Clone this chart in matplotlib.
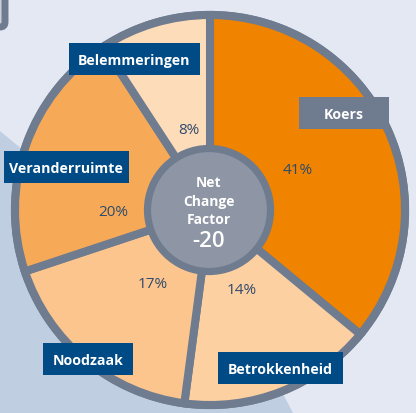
"""Net Change Factor pie: five drivers around a centre badge."""

import matplotlib

matplotlib.use("Agg")
import matplotlib.pyplot as plt  # noqa: E402
from matplotlib.patches import Circle, FancyBboxPatch, Polygon, Rectangle  # noqa: E402

# slice sizes as drawn (clockwise from 12 o'clock) and the printed percentages
categories = ["Koers", "Betrokkenheid", "Noodzaak", "Veranderruimte", "Belemmeringen"]
slice_sizes = [36.0, 16.1, 17.8, 20.9, 9.2]
pct_labels = ["41%", "14%", "17%", "20%", "8%"]
net_change_factor = -20

slice_colors = ["#f08300", "#fdd0a2", "#fbc58d", "#f6aa57", "#fddcba"]
label_box_colors = ["#6f7b8f", "#004a85", "#004a85", "#004a85", "#004a85"]

BG = "#e4e8f3"
BAND = "#c0cee1"
RING = "#6f7b8f"
HUB = "#8e96a5"
PCT_COLOR = "#2f4a6c"
FONT = ["Open Sans", "DejaVu Sans"]

W, H = 416, 414
CX, CY = 210, H - 211
R = 195

# label box layout in pixels from top-left: (centre x, centre y, width)
box_layout = {
    "Koers": (344, 114, 90),
    "Betrokkenheid": (280, 369, 125),
    "Noodzaak": (88, 360, 90),
    "Veranderruimte": (66, 168, 125),
    "Belemmeringen": (134, 60, 131),
}
# percentage text positions in pixels from top-left
pct_layout = [(298, 171), (242, 290), (153, 284), (113, 213), (189, 130)]

fig = plt.figure(figsize=(W / 100, H / 100), dpi=100)
fig.patch.set_facecolor(BG)
ax = fig.add_axes([0, 0, 1, 1])
ax.set_facecolor(BG)

# background diagonal band in the lower left
ax.add_patch(Polygon([(0, H - 132), (257, H - 345), (293, 0), (0, 0)],
                     closed=True, facecolor=BAND, edgecolor="none", zorder=0))
# clipped frame in the top-left corner
ax.add_patch(FancyBboxPatch((-40, H - 28), 45, 60, boxstyle="round,pad=0,rounding_size=5",
                            facecolor="#c9d0dc", edgecolor=RING, linewidth=5, zorder=1))

ax.pie(slice_sizes, colors=slice_colors, startangle=90, counterclock=False,
       center=(CX, CY), radius=R, frame=True,
       wedgeprops=dict(edgecolor=RING, linewidth=5.8, joinstyle="miter"))
for w in ax.patches:
    w.set_zorder(2)

ax.add_patch(Circle((CX, CY), R + 0.5, facecolor="none", edgecolor=RING, linewidth=5.2, zorder=3))
ax.add_patch(Circle((CX - 1, CY), 61.5, facecolor=HUB, edgecolor=RING, linewidth=5.2, zorder=4))

for text, (px, py) in zip(pct_labels, pct_layout):
    ax.text(px, H - py, text, ha="center", va="center", fontsize=11,
            color=PCT_COLOR, family=FONT, zorder=5)

for name, color in zip(categories, label_box_colors):
    bx, by, bw = box_layout[name]
    bh = 32
    ax.add_patch(Rectangle((bx - bw / 2, H - by - bh / 2), bw, bh,
                           facecolor=color, edgecolor="none", zorder=6))
    ax.text(bx, H - by - 1, name, ha="center", va="center", fontsize=10.2,
            fontweight="bold", color="white", family=FONT, zorder=7)

for text, py in [("Net", 183), ("Change", 202), ("Factor", 220)]:
    ax.text(CX - 1, H - py, text, ha="center", va="center", fontsize=10,
            fontweight="bold", color="white", family=FONT, zorder=5)
ax.text(CX - 1, H - 242, f"{net_change_factor}", ha="center", va="center", fontsize=16,
        fontweight="semibold", color="white", family=FONT, zorder=5)

ax.set_xlim(0, W)
ax.set_ylim(0, H)
ax.set_aspect("auto")
ax.axis("off")

fig.savefig("out.png", dpi=100, facecolor=BG)
plt.close(fig)
